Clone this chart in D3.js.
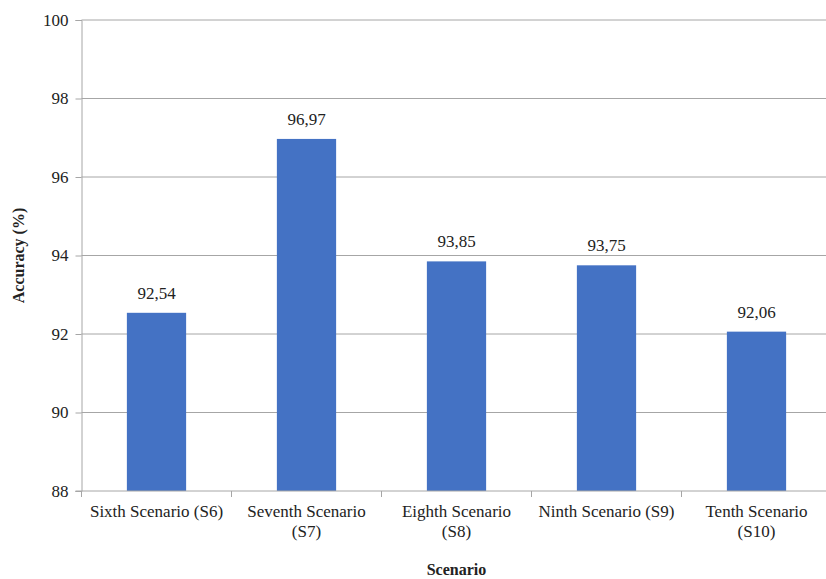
<!DOCTYPE html>
<html>
<head>
<meta charset="utf-8">
<script src="https://cdn.jsdelivr.net/npm/d3@7"></script>
<style>
  body { margin: 0; background: #fff; }
</style>
</head>
<body>
<div id="chart"></div>
<script>
var scenarios = ["Sixth Scenario (S6)", "Seventh Scenario (S7)", "Eighth Scenario (S8)", "Ninth Scenario (S9)", "Tenth Scenario (S10)"];
// tick labels as they break in the original
var scenarioLines = [
  ["Sixth Scenario (S6)"],
  ["Seventh Scenario", "(S7)"],
  ["Eighth Scenario", "(S8)"],
  ["Ninth Scenario (S9)"],
  ["Tenth Scenario", "(S10)"]
];
var accuracy = [92.54, 96.97, 93.85, 93.75, 92.06];
var yTicks = [88, 90, 92, 94, 96, 98, 100];

var FONT = "'Liberation Serif', serif";

var svgWidth = 826;
var svgHeight = 579;
var margin = { top: 20, right: -5.5, bottom: 88, left: 81.5 };
var chartWidth = svgWidth - margin.left - margin.right;
var chartHeight = svgHeight - margin.top - margin.bottom;

var data = scenarios.map(function (s, i) { return { name: s, value: accuracy[i], lines: scenarioLines[i] }; });

var svg = d3.select("#chart")
  .append("svg")
  .attr("width", svgWidth)
  .attr("height", svgHeight)
  .style("font-family", FONT);

var chartGroup = svg.append("g")
  .attr("transform", `translate(${margin.left}, ${margin.top})`);

var xScale = d3.scaleBand()
  .domain(scenarios)
  .range([0, chartWidth])
  .paddingInner(0.605)
  .paddingOuter(0.3025);

var xBounds = d3.scaleBand().domain(scenarios).range([0, chartWidth]);

var yScale = d3.scaleLinear()
  .domain([88, 100])
  .range([chartHeight, 0]);

// gridlines
chartGroup.append("g")
  .selectAll("line")
  .data(yTicks.filter(function (t) { return t > 88; }))
  .enter()
  .append("line")
  .attr("x1", 0)
  .attr("x2", chartWidth)
  .attr("y1", d => yScale(d))
  .attr("y2", d => yScale(d))
  .attr("stroke", "#a6a6a6")
  .attr("stroke-width", 1);

// y axis
var yAxis = d3.axisLeft(yScale)
  .tickValues(yTicks)
  .tickSize(6)
  .tickPadding(7)
  .tickFormat(d3.format("d"));

var yAxisG = chartGroup.append("g").call(yAxis)
  .attr("font-family", null)
  .attr("font-size", null);
yAxisG.select(".domain").attr("stroke", "#a6a6a6");
yAxisG.selectAll(".tick line").attr("stroke", "#a6a6a6");
yAxisG.selectAll("text")
  .style("font-family", FONT)
  .style("font-size", "17px")
  .attr("fill", "#222");

// bars
chartGroup.selectAll(".bar")
  .data(data)
  .enter()
  .append("rect")
  .attr("class", "bar")
  .attr("x", d => xScale(d.name))
  .attr("y", d => yScale(d.value))
  .attr("width", xScale.bandwidth())
  .attr("height", d => chartHeight - yScale(d.value))
  .attr("fill", "#4472c4");

// value labels
chartGroup.selectAll(".val")
  .data(data)
  .enter()
  .append("text")
  .attr("class", "val")
  .attr("x", d => xScale(d.name) + xScale.bandwidth() / 2)
  .attr("y", d => yScale(d.value) - 14)
  .attr("text-anchor", "middle")
  .attr("fill", "#222")
  .style("font-family", FONT)
  .style("font-size", "17px")
  .text(d => d3.format(".2f")(d.value).replace(".", ","));

// x axis baseline and ticks at band edges
var xAxisG = chartGroup.append("g")
  .attr("transform", `translate(0, ${chartHeight})`);

xAxisG.append("line")
  .attr("x1", -6)
  .attr("x2", chartWidth)
  .attr("stroke", "#a6a6a6");

xAxisG.selectAll(".edge")
  .data(scenarios)
  .enter()
  .append("line")
  .attr("x1", d => xBounds(d))
  .attr("x2", d => xBounds(d))
  .attr("y1", 0)
  .attr("y2", 6)
  .attr("stroke", "#a6a6a6");

// category labels
var catLabels = xAxisG.selectAll(".cat")
  .data(data)
  .enter()
  .append("text")
  .attr("class", "cat")
  .attr("y", 26)
  .attr("text-anchor", "middle")
  .attr("fill", "#222")
  .style("font-family", FONT)
  .style("font-size", "17px");

catLabels.selectAll("tspan")
  .data(d => d.lines.map(function (l) { return { line: l, name: d.name }; }))
  .enter()
  .append("tspan")
  .attr("x", d => xBounds(d.name) + xBounds.bandwidth() / 2)
  .attr("dy", (d, i) => i === 0 ? 0 : 20)
  .text(d => d.line);

// axis titles
svg.append("text")
  .attr("x", margin.left + 375)
  .attr("y", 575)
  .attr("text-anchor", "middle")
  .attr("fill", "#222")
  .style("font-family", FONT)
  .style("font-size", "16px")
  .style("font-weight", "bold")
  .text("Scenario");

svg.append("text")
  .attr("transform", `translate(24, ${margin.top + chartHeight / 2}) rotate(-90)`)
  .attr("text-anchor", "middle")
  .attr("fill", "#222")
  .style("font-family", FONT)
  .style("font-size", "16px")
  .style("font-weight", "bold")
  .text("Accuracy (%)");
</script>
</body>
</html>
